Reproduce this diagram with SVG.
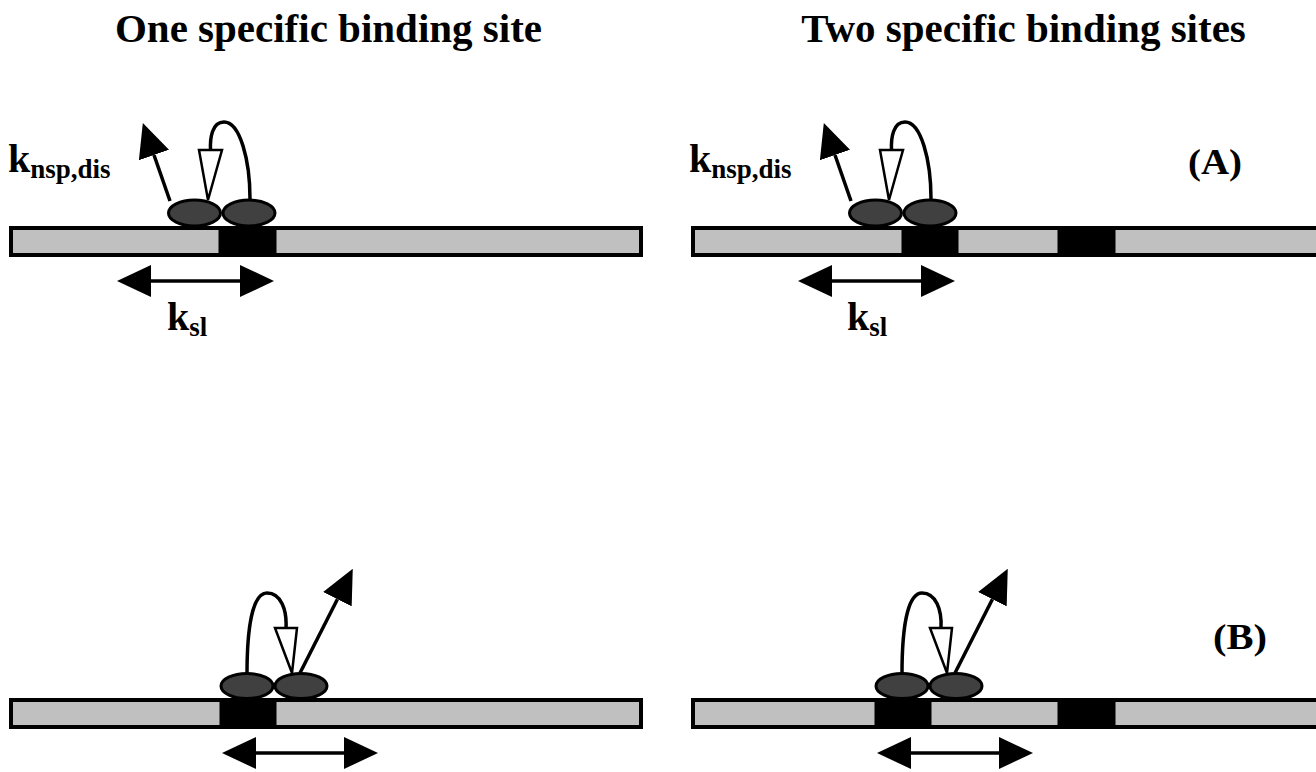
<svg xmlns="http://www.w3.org/2000/svg" width="1316" height="772" viewBox="0 0 1316 772">
<defs>
<style>
.title{font-family:"Liberation Serif","Times New Roman",serif;font-weight:bold;font-size:41px;fill:#000}
.lab{font-family:"Liberation Serif","Times New Roman",serif;font-weight:bold;fill:#000}
.bar{fill:#c0c0c0;stroke:#000;stroke-width:4}
.site{fill:#000;stroke:#000;stroke-width:1}
.prot{fill:#404040;stroke:#000;stroke-width:3}
.line{fill:none;stroke:#000;stroke-width:3.5}
.hollow{fill:#fff;stroke:#000;stroke-width:2.5;stroke-linejoin:miter}
</style>
<marker id="ah" viewBox="0 0 34 32" refX="0" refY="16" markerWidth="34" markerHeight="32" markerUnits="userSpaceOnUse" orient="auto-start-reverse">
<path d="M0,0 L34,16 L0,32 z" fill="#000"/>
</marker>
</defs>
<rect width="1316" height="772" fill="#fff"/>

<g id="titles">
<text class="title" x="328.5" y="42" text-anchor="middle">One specific binding site</text>
<text class="title" x="1023.5" y="42" text-anchor="middle">Two specific binding sites</text>
<text class="lab" x="1188" y="174" font-size="36" textLength="54" lengthAdjust="spacingAndGlyphs">(A)</text>
<text class="lab" x="1213" y="649" font-size="36" textLength="54" lengthAdjust="spacingAndGlyphs">(B)</text>
</g>

<g id="dna">
<rect class="bar" x="11" y="228" width="630" height="27"/>
<rect class="site" x="219" y="228" width="57" height="27"/>
<rect class="bar" x="693" y="228" width="700" height="27"/>
<rect class="site" x="902" y="228" width="56" height="27"/>
<rect class="site" x="1058" y="228" width="57" height="27"/>
<rect class="bar" x="11" y="700" width="630" height="27"/>
<rect class="site" x="220" y="700" width="56" height="27"/>
<rect class="bar" x="693" y="700" width="700" height="27"/>
<rect class="site" x="875" y="700" width="56" height="27"/>
<rect class="site" x="1058" y="700" width="57" height="27"/>
</g>

<g id="proteinA1">
<ellipse class="prot" cx="194.5" cy="213" rx="26" ry="13"/>
<ellipse class="prot" cx="249" cy="213" rx="26" ry="13"/>
</g>
<g id="proteinA2" transform="translate(681,0)">
<ellipse class="prot" cx="194.5" cy="213" rx="26" ry="13"/>
<ellipse class="prot" cx="249" cy="213" rx="26" ry="13"/>
</g>
<g id="proteinB1">
<ellipse class="prot" cx="247" cy="686" rx="26" ry="12.5"/>
<ellipse class="prot" cx="301" cy="686" rx="26" ry="12.5"/>
</g>
<g id="proteinB2" transform="translate(655,0)">
<ellipse class="prot" cx="247" cy="686" rx="26" ry="12.5"/>
<ellipse class="prot" cx="301" cy="686" rx="26" ry="12.5"/>
</g>

<g id="connectors">
<g id="connA1">
<line class="line" x1="170" y1="201" x2="154" y2="155" marker-end="url(#ah)"/>
<path class="line" d="M250,199 C250,160 240,122 224,122 C212,122 210,138 210.5,150"/>
<polygon class="hollow" points="199,150 222,150 208,200"/>
<line class="line" x1="151" y1="281" x2="240" y2="281" marker-start="url(#ah)" marker-end="url(#ah)"/>
</g>
<g id="connA2" transform="translate(681,0)">
<line class="line" x1="170" y1="201" x2="154" y2="155" marker-end="url(#ah)"/>
<path class="line" d="M250,199 C250,160 240,122 224,122 C212,122 210,138 210.5,150"/>
<polygon class="hollow" points="199,150 222,150 208,200"/>
<line class="line" x1="151" y1="281" x2="240" y2="281" marker-start="url(#ah)" marker-end="url(#ah)"/>
</g>
<g id="connB1">
<line class="line" x1="300" y1="673" x2="337.4" y2="599.2" marker-end="url(#ah)"/>
<path class="line" d="M247,674 C247,630 252,593 267,593 C281,593 287,610 286,628"/>
<polygon class="hollow" points="275,628 297,628 292,673"/>
<line class="line" x1="256" y1="753" x2="344" y2="753" marker-start="url(#ah)" marker-end="url(#ah)"/>
</g>
<g id="connB2" transform="translate(655,0)">
<line class="line" x1="300" y1="673" x2="337.4" y2="599.2" marker-end="url(#ah)"/>
<path class="line" d="M247,674 C247,630 252,593 267,593 C281,593 287,610 286,628"/>
<polygon class="hollow" points="275,628 297,628 292,673"/>
<line class="line" x1="256" y1="753" x2="344" y2="753" marker-start="url(#ah)" marker-end="url(#ah)"/>
</g>
</g>

<g id="labels">
<text class="lab" x="8" y="172" font-size="40">k<tspan font-size="27" dy="6">nsp,dis</tspan></text>
<text class="lab" x="167" y="330" font-size="40">k<tspan font-size="27" dy="6">sl</tspan></text>
<text class="lab" x="689" y="172" font-size="40">k<tspan font-size="27" dy="6">nsp,dis</tspan></text>
<text class="lab" x="847" y="330" font-size="40">k<tspan font-size="27" dy="6">sl</tspan></text>
</g>
</svg>
